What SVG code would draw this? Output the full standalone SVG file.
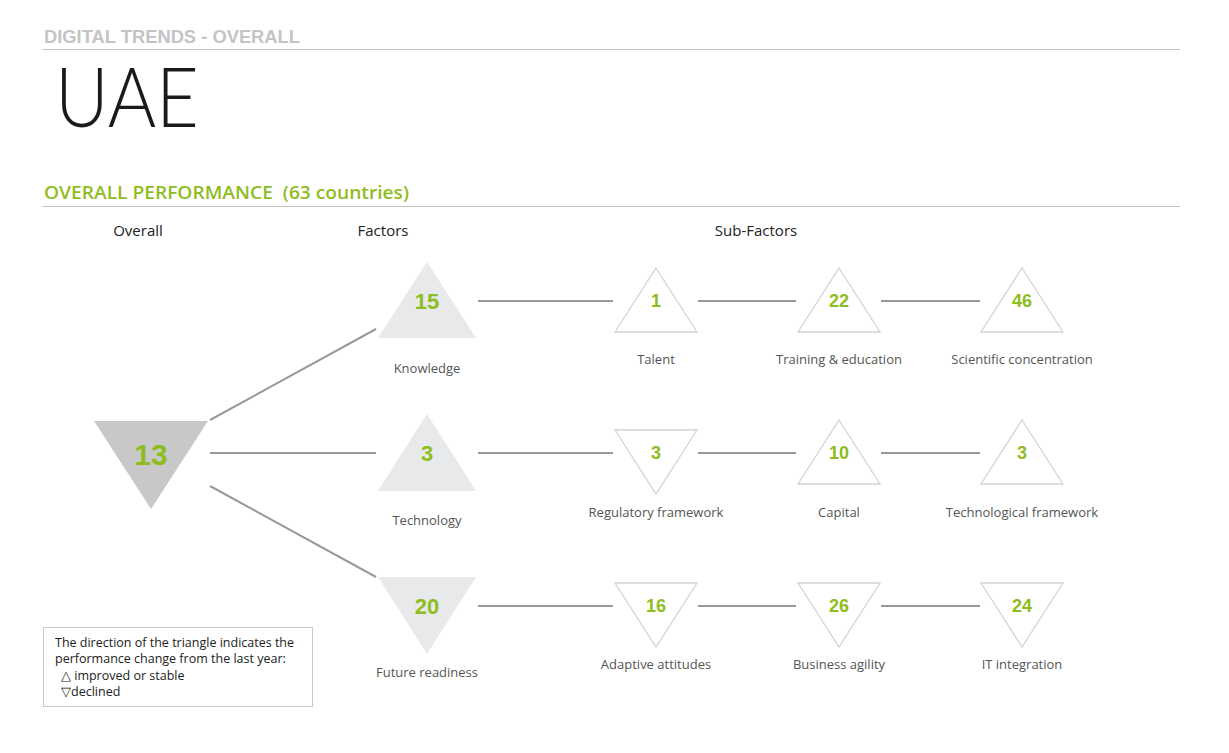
<svg xmlns="http://www.w3.org/2000/svg" width="1229" height="753" viewBox="0 0 1229 753">
<style>
.hdr{font-family:"Liberation Sans",Arial,sans-serif;font-weight:bold;font-size:18px;fill:#c4c4c4}
.title{font-family:Lato,"Open Sans",sans-serif;font-weight:300;font-size:82px;fill:#1a1a1a}
.sec{font-family:"Open Sans","Liberation Sans",sans-serif;font-weight:600;font-size:18.5px;fill:#8fbc1f;white-space:pre}
.col{font-family:"Open Sans","Liberation Sans",sans-serif;font-size:15px;fill:#222;text-anchor:middle}
.lbl{font-family:"Open Sans","Liberation Sans",sans-serif;font-size:13px;fill:#555;text-anchor:middle}
.num{font-family:"Liberation Sans",Arial,sans-serif;font-weight:bold;fill:#8dbd1e;text-anchor:middle}
.rule{stroke:#c4c4c4;stroke-width:1.2}
.con{stroke:#999;stroke-width:2;fill:none}
.fac{fill:#e8e9ea}
.sub{fill:#fff;stroke:#d4d4d4;stroke-width:1.3}
.leg{font-family:"Open Sans","Liberation Sans",sans-serif;font-size:12.5px;fill:#222}
</style>
<text class="hdr" x="44" y="43" textLength="256" lengthAdjust="spacingAndGlyphs">DIGITAL TRENDS - OVERALL</text>
<line class="rule" x1="42" y1="49.5" x2="1180" y2="49.5"/>
<text class="title" x="55" y="127" textLength="144" lengthAdjust="spacingAndGlyphs">UAE</text>
<text class="sec" x="44" y="199" textLength="365" lengthAdjust="spacingAndGlyphs" xml:space="preserve">OVERALL PERFORMANCE  (63 countries)</text>
<line class="rule" x1="42" y1="206.5" x2="1180" y2="206.5"/>
<text class="col" x="138" y="236">Overall</text>
<text class="col" x="383" y="236">Factors</text>
<text class="col" x="756" y="236">Sub-Factors</text>

<g id="connectors">
<line class="con" x1="210" y1="420" x2="376" y2="329"/>
<line class="con" x1="210" y1="453" x2="376" y2="453"/>
<line class="con" x1="210" y1="486" x2="376" y2="577"/>
<line class="con" x1="478" y1="301" x2="613" y2="301"/>
<line class="con" x1="698" y1="301" x2="796" y2="301"/>
<line class="con" x1="881" y1="301" x2="980" y2="301"/>
<line class="con" x1="478" y1="453" x2="613" y2="453"/>
<line class="con" x1="698" y1="453" x2="796" y2="453"/>
<line class="con" x1="881" y1="453" x2="980" y2="453"/>
<line class="con" x1="478" y1="606" x2="613" y2="606"/>
<line class="con" x1="698" y1="606" x2="796" y2="606"/>
<line class="con" x1="881" y1="606" x2="980" y2="606"/>
</g>

<g id="overall">
<polygon points="94,421 208,421 151,509" fill="#c8c8c8"/>
<text class="num" x="151" y="465" font-size="30">13</text>
</g>

<g id="knowledge">
<polygon class="fac" points="427,262 476,338 378,338"/>
<text class="num" x="427" y="309" font-size="22">15</text>
<text class="lbl" x="427" y="373">Knowledge</text>
</g>
<g id="technology">
<polygon class="fac" points="427,414 476,491 378,491"/>
<text class="num" x="427" y="461" font-size="22">3</text>
<text class="lbl" x="427" y="525">Technology</text>
</g>
<g id="future-readiness">
<polygon class="fac" points="378,577 476,577 427,654"/>
<text class="num" x="427" y="614" font-size="22">20</text>
<text class="lbl" x="427" y="677">Future readiness</text>
</g>

<g id="talent">
<polygon class="sub" points="656,268 697,332 615,332"/>
<text class="num" x="656" y="307" font-size="18">1</text>
<text class="lbl" x="656" y="364">Talent</text>
</g>
<g id="training">
<polygon class="sub" points="839,268 880,332 798,332"/>
<text class="num" x="839" y="307" font-size="18">22</text>
<text class="lbl" x="839" y="364">Training &amp; education</text>
</g>
<g id="scientific">
<polygon class="sub" points="1022,268 1063,332 981,332"/>
<text class="num" x="1022" y="307" font-size="18">46</text>
<text class="lbl" x="1022" y="364">Scientific concentration</text>
</g>

<g id="regulatory">
<polygon class="sub" points="615,430 697,430 656,494"/>
<text class="num" x="656" y="459" font-size="18">3</text>
<text class="lbl" x="656" y="517">Regulatory framework</text>
</g>
<g id="capital">
<polygon class="sub" points="839,420 880,484 798,484"/>
<text class="num" x="839" y="459" font-size="18">10</text>
<text class="lbl" x="839" y="517">Capital</text>
</g>
<g id="technological">
<polygon class="sub" points="1022,420 1063,484 981,484"/>
<text class="num" x="1022" y="459" font-size="18">3</text>
<text class="lbl" x="1022" y="517">Technological framework</text>
</g>

<g id="adaptive">
<polygon class="sub" points="615,583 697,583 656,647"/>
<text class="num" x="656" y="612" font-size="18">16</text>
<text class="lbl" x="656" y="669">Adaptive attitudes</text>
</g>
<g id="business">
<polygon class="sub" points="798,583 880,583 839,647"/>
<text class="num" x="839" y="612" font-size="18">26</text>
<text class="lbl" x="839" y="669">Business agility</text>
</g>
<g id="it">
<polygon class="sub" points="981,583 1063,583 1022,647"/>
<text class="num" x="1022" y="612" font-size="18">24</text>
<text class="lbl" x="1022" y="669">IT integration</text>
</g>

<g id="legend">
<rect x="43.5" y="627.5" width="269" height="79" fill="#fff" stroke="#c8c8c8" stroke-width="1"/>
<text class="leg" x="55" y="647">The direction of the triangle indicates the</text>
<text class="leg" x="55" y="663">performance change from the last year:</text>
<text class="leg" x="61" y="680">△ improved or stable</text>
<text class="leg" x="61" y="696">▽declined</text>
</g>
</svg>
